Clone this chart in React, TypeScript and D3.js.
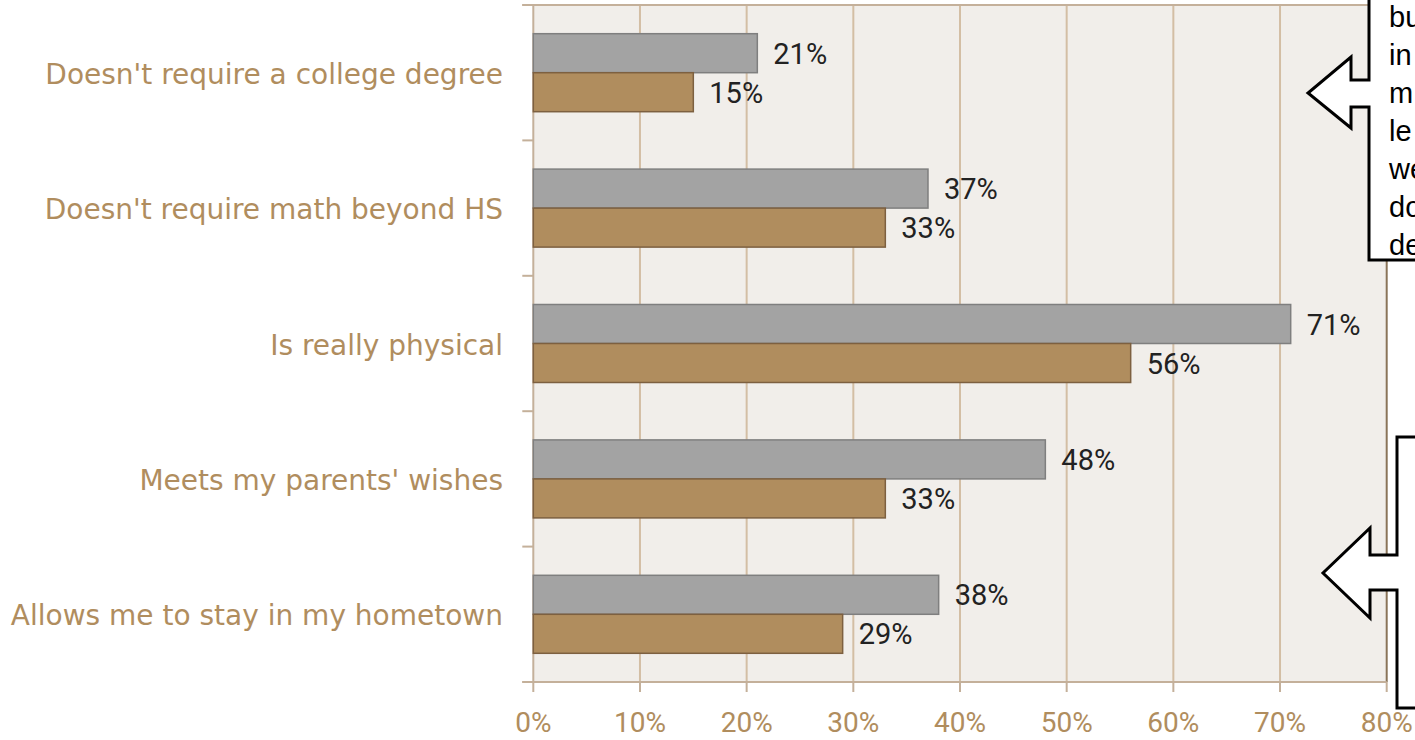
import React from "react";
import * as d3 from "d3";

const categories = [
  "Doesn't require a college degree",
  "Doesn't require math beyond HS",
  "Is really physical",
  "Meets my parents' wishes",
  "Allows me to stay in my hometown",
];
const seriesGray = [21, 37, 71, 48, 38];
const seriesBrown = [15, 33, 56, 33, 29];
const xTicks = [0, 10, 20, 30, 40, 50, 60, 70, 80];
const calloutLines = ["bu", "in", "m", "le", "we", "do", "de"];

const W = 1415;
const H = 740;
const left = 533.3;
const right = 1386.7;
const top = 5;
const bottom = 682;

const tan = "#b08d5e";

export default function App() {
  const x = d3.scaleLinear().domain([0, 80]).range([left, right]);
  const y = d3.scaleBand<string>().domain(categories).range([top, bottom]).padding(0);
  const inner = d3.scaleBand<string>().domain(["gray", "brown"]).range([0, 78]).padding(0);
  const off = (y.bandwidth() - 78) / 2;
  const boundaries = [top, ...categories.map((c) => (y(c) as number) + y.bandwidth())];

  const series = [
    { key: "gray", values: seriesGray, fill: "#a3a3a3", stroke: "#7f7f7f" },
    { key: "brown", values: seriesBrown, fill: "#b08d5e", stroke: "#7d6040" },
  ];

  return (
    <svg
      width={W}
      height={H}
      style={{ position: "fixed", left: 0, top: 0, background: "#ffffff" }}
    >
      <rect x={left} y={top} width={right - left} height={bottom - top} fill="#f1eeea" />
      {xTicks.slice(1, -1).map((t) => (
        <line key={"g" + t} x1={x(t)} x2={x(t)} y1={top} y2={bottom} stroke="#d3bea4" strokeWidth={2} />
      ))}
      <line x1={left - 11} x2={right} y1={top} y2={top} stroke="#c4b09a" strokeWidth={2} />
      <line x1={right} x2={right} y1={top} y2={bottom} stroke="#8a7459" strokeWidth={2} />
      <line x1={left} x2={left} y1={top} y2={bottom} stroke="#c4b09a" strokeWidth={2} />
      {boundaries.map((b, i) => (
        <line key={"ct" + i} x1={left - 11} x2={left} y1={b} y2={b} stroke="#c4b09a" strokeWidth={2} />
      ))}
      <line x1={left - 11} x2={right} y1={bottom} y2={bottom} stroke="#c4b09a" strokeWidth={2} />
      {xTicks.map((t) => (
        <g key={"xt" + t}>
          <line x1={x(t)} x2={x(t)} y1={bottom} y2={bottom + 10} stroke="#c4b09a" strokeWidth={2} />
          <text x={x(t)} y={732} textAnchor="middle" fontFamily="Roboto" fontSize={28} fill={tan}>
            {t}%
          </text>
        </g>
      ))}
      {series.map((s) =>
        categories.map((c, i) => {
          const by = (y(c) as number) + off + (inner(s.key) as number);
          const bh = inner.bandwidth();
          return (
            <g key={s.key + i}>
              <rect
                x={x(0)}
                y={by}
                width={x(s.values[i]) - x(0)}
                height={bh}
                fill={s.fill}
                stroke={s.stroke}
                strokeWidth={1.5}
              />
              <text
                x={x(s.values[i]) + 16}
                y={by + bh / 2 + 10.5}
                fontFamily="Roboto"
                fontSize={29}
                fill="#222222"
              >
                {s.values[i]}%
              </text>
            </g>
          );
        })
      )}
      {categories.map((c) => (
        <text
          key={"cl" + c}
          x={503}
          y={(y(c) as number) + y.bandwidth() / 2 + 11}
          textAnchor="end"
          fontFamily="DejaVu Sans"
          fontSize={28}
          fill={tan}
        >
          {c}
        </text>
      ))}
      <path
        d="M1369,-10 L1369,80 L1351,80 L1351,57 L1308,93 L1351,128 L1351,107 L1369,107 L1369,260 L1430,260 L1430,-10 Z"
        fill="#ffffff"
        stroke="#000000"
        strokeWidth={3}
      />
      {calloutLines.map((t, i) => (
        <text
          key={"co" + i}
          x={1389}
          y={27 + i * 38}
          fontFamily="Liberation Sans"
          fontSize={29}
          fill="#000000"
        >
          {t}
        </text>
      ))}
      <path
        d="M1430,437 L1397,437 L1397,555 L1370,555 L1370,528 L1323,573 L1370,618 L1370,590 L1397,590 L1397,708 L1430,708 Z"
        fill="#ffffff"
        stroke="#000000"
        strokeWidth={3}
      />
    </svg>
  );
}
